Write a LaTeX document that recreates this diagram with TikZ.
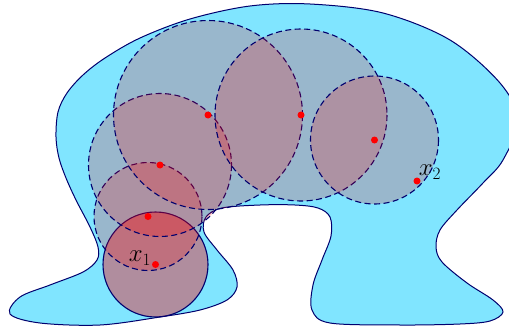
\documentclass[tikz,border=0pt]{standalone}
\usetikzlibrary{calc}
\definecolor{blobfill}{RGB}{128,229,255}
\definecolor{navyline}{RGB}{0,0,110}
\tikzset{
  blob/.style={draw=navyline, line width=1pt, fill=blobfill},
  ball/.style={draw=navyline, line width=1.1pt, fill=red, fill opacity=0.2, draw opacity=1},
  solidball/.style={ball, fill opacity=0.38},
  dashball/.style={ball, dash pattern=on 6pt off 3.5pt},
  centre/.style={circle, fill=red, inner sep=0pt, minimum size=7pt},
  lab/.style={inner sep=0pt, font=\fontsize{23}{25}\selectfont}
}
\begin{document}
\begin{tikzpicture}[x=1pt,y=-1pt]
\useasboundingbox (0,0) rectangle (509,329);
% domain
\draw[blob] plot[smooth cycle, tension=0.55] coordinates {
 (56,137) (58,112) (67,93) (83,75) (105,58) (140,38) (190,19) (250,6) (310,4) (383,13)
 (450,40) (500,83) (518,120) (503,160) (483,183) (457,210) (440,230) (436,247)
 (442,262) (467,283) (493,300) (503,312) (490,321) (460,324) (400,325) (330,323)
 (312,310) (313,285) (322,260) (331,236) (330,217) (318,208) (295,205) (260,205)
 (222,208) (206,217) (204,232) (217,250) (233,270) (237,287) (227,300) (200,310)
 (160,317) (100,325) (40,323) (10,314) (20,297) (50,285) (83,272) (97,260)
 (98,247) (90,227) (76,200) (66,178) (59,158)};
% balls
\path (155.5,264.5) coordinate (c1) (148,216.5) coordinate (c2) (160,165) coordinate (c3)
      (208,115) coordinate (c4) (301,115) coordinate (c5) (374.5,140) coordinate (c6);
\draw[solidball] (c1) circle[radius=52.5];
\draw[dashball] (c2) circle[radius=54];
\draw[dashball] (c3) circle[radius=71.5];
\draw[dashball] (c4) circle[radius=94.5];
\draw[dashball] (c5) circle[radius=86];
\draw[dashball] (c6) circle[radius=64];
% centres
\node[centre] (d1) at (c1) {};
\node[centre] (d2) at (c2) {};
\node[centre] (d3) at (c3) {};
\node[centre] (d4) at (c4) {};
\node[centre] (d5) at (c5) {};
\node[centre] (d6) at (c6) {};
\node[centre] (d7) at (417,181) {};
% labels
\node[lab] (l1) at (140,258) {$x_1$};
\node[lab] (l2) at (430,172) {$x_2$};
\end{tikzpicture}
\end{document}
